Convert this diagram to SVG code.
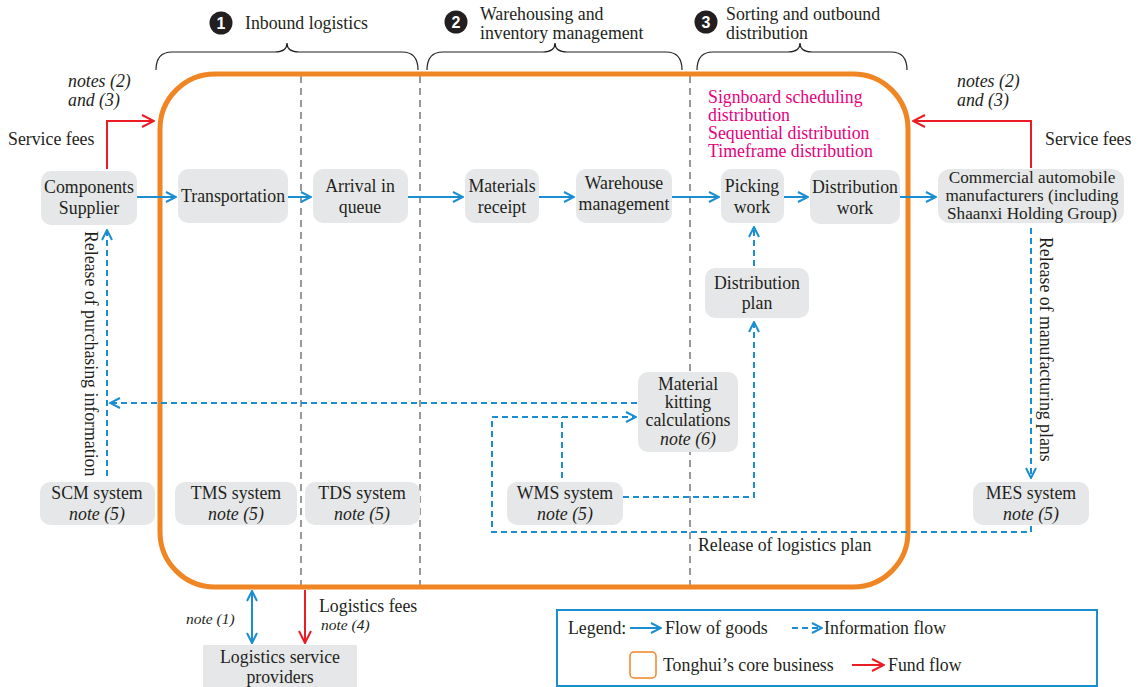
<svg xmlns="http://www.w3.org/2000/svg" width="1138" height="687" viewBox="0 0 1138 687">
<defs>
<style>
text{font-family:"Liberation Serif","Times New Roman",serif;font-size:17.8px;fill:#231f20}
.c{text-anchor:middle}
.i{font-style:italic}
.pk{fill:#e6007e}
.node{fill:#e6e7e8}
.goods{stroke:#1a8ed1;stroke-width:2;fill:none}
.info{stroke:#1a8ed1;stroke-width:2;fill:none;stroke-dasharray:6 4}
.fund{stroke:#ec1c24;stroke-width:2;fill:none}
.sep{stroke:#999;stroke-width:2;stroke-dasharray:7 5;fill:none}
.brace{stroke:#231f20;stroke-width:1.2;fill:none}
.num{fill:#fff;font-weight:bold;font-family:"Liberation Sans",Arial,sans-serif;font-size:16px}
.cm{font-size:17.2px}
</style>
<marker id="ab" viewBox="0 0 12 12" refX="11" refY="6" markerWidth="12" markerHeight="12" markerUnits="userSpaceOnUse" orient="auto-start-reverse"><path d="M1,1 L11,6 L1,11" fill="none" stroke="#1a8ed1" stroke-width="2"/></marker>
<marker id="ar" viewBox="0 0 14 14" refX="13" refY="7" markerWidth="14" markerHeight="14" markerUnits="userSpaceOnUse" orient="auto"><path d="M1,1 L13,7 L1,13" fill="none" stroke="#ec1c24" stroke-width="2"/></marker>
</defs>
<rect width="1138" height="687" fill="#fff"/>

<g id="separators">
<line class="sep" x1="301" y1="76" x2="301" y2="588"/>
<line class="sep" x1="420" y1="76" x2="420" y2="588"/>
<line class="sep" x1="690" y1="76" x2="690" y2="588"/>
</g>

<g id="core">
<rect x="160" y="74" width="748" height="513" rx="55" fill="none" stroke="#f08523" stroke-width="5"/>
</g>

<g id="headers">
<path class="brace" d="M156,70 Q156,52 172,52 L275,52 Q287,52 287,43 Q287,52 299,52 L402,52 Q418,52 418,70"/>
<path class="brace" d="M427,70 Q427,52 443,52 L543,52 Q555,52 555,43 Q555,52 567,52 L666,52 Q682,52 682,70"/>
<path class="brace" d="M697,70 Q697,52 713,52 L788,52 Q800,52 800,43 Q800,52 812,52 L891,52 Q907,52 907,70"/>
<circle cx="221" cy="23" r="11.5" fill="#231f20"/>
<text x="221" y="29" class="c num">1</text>
<text x="245" y="29">Inbound logistics</text>
<circle cx="456" cy="22" r="11.5" fill="#231f20"/>
<text x="456" y="28" class="c num">2</text>
<text x="480" y="20">Warehousing and</text>
<text x="480" y="39">inventory management</text>
<circle cx="706" cy="22" r="11.5" fill="#231f20"/>
<text x="706" y="28" class="c num">3</text>
<text x="726" y="20">Sorting and outbound</text>
<text x="726" y="39">distribution</text>
</g>

<g id="connectors">
<line class="goods" x1="137" y1="197" x2="176" y2="197" marker-end="url(#ab)"/>
<line class="goods" x1="288" y1="197" x2="311" y2="197" marker-end="url(#ab)"/>
<line class="goods" x1="408" y1="197" x2="463" y2="197" marker-end="url(#ab)"/>
<line class="goods" x1="539" y1="197" x2="574" y2="197" marker-end="url(#ab)"/>
<line class="goods" x1="672" y1="197" x2="719" y2="197" marker-end="url(#ab)"/>
<line class="goods" x1="784" y1="197" x2="808" y2="197" marker-end="url(#ab)"/>
<line class="goods" x1="900" y1="197" x2="936" y2="197" marker-end="url(#ab)"/>
<line class="goods" x1="252" y1="591" x2="252" y2="643" marker-start="url(#ab)" marker-end="url(#ab)"/>
<path class="fund" d="M107,169 L107,121 L154,121" marker-end="url(#ar)"/>
<path class="fund" d="M1031,168 L1031,121 L913,121" marker-end="url(#ar)"/>
<line class="fund" x1="305" y1="590" x2="305" y2="643" marker-end="url(#ar)"/>
<path class="info" d="M107,476 L107,230" marker-end="url(#ab)"/>
<path class="info" d="M637,403 L110,403" marker-end="url(#ab)"/>
<path class="info" d="M1031,526 L1031,532 L492,532 L492,417 L636,417" marker-end="url(#ab)"/>
<path class="info" d="M562,478 L562,417"/>
<path class="info" d="M623,497 L754,497 L754,322" marker-end="url(#ab)"/>
<path class="info" d="M754,266 L754,227" marker-end="url(#ab)"/>
<path class="info" d="M1031,228 L1031,478" marker-end="url(#ab)"/>
</g>

<g id="labels">
<text x="68" y="87" class="i">notes (2)</text>
<text x="68" y="106" class="i">and (3)</text>
<text x="8" y="145">Service fees</text>
<text x="957" y="87" class="i">notes (2)</text>
<text x="957" y="106" class="i">and (3)</text>
<text x="1045" y="145">Service fees</text>
<text x="708" y="103" class="pk">Signboard scheduling</text>
<text x="708" y="121" class="pk">distribution</text>
<text x="708" y="139" class="pk">Sequential distribution</text>
<text x="708" y="157" class="pk">Timeframe distribution</text>
<text transform="translate(85,231) rotate(90)">Release of purchasing information</text>
<text transform="translate(1040,237) rotate(90)">Release of manufacturing plans</text>
<text x="698" y="551">Release of logistics plan</text>
<text x="186" y="624" class="i" style="font-size:15.5px">note (1)</text>
<text x="319" y="612">Logistics fees</text>
<text x="321" y="630" class="i" style="font-size:15.5px">note (4)</text>
</g>

<g id="n-supplier"><rect class="node" x="41" y="171" width="96" height="54" rx="10"/><text x="89" y="193" class="c">Components</text><text x="89" y="214" class="c">Supplier</text></g>
<g id="n-transport"><rect class="node" x="178" y="169" width="110" height="54" rx="10"/><text x="233" y="202" class="c">Transportation</text></g>
<g id="n-arrival"><rect class="node" x="313" y="169" width="95" height="54" rx="10"/><text x="360" y="192" class="c">Arrival in</text><text x="360" y="213" class="c">queue</text></g>
<g id="n-receipt"><rect class="node" x="465" y="169" width="74" height="54" rx="10"/><text x="502" y="192" class="c">Materials</text><text x="502" y="213" class="c">receipt</text></g>
<g id="n-warehouse"><rect class="node" x="576" y="169" width="96" height="54" rx="10"/><text x="624" y="189" class="c">Warehouse</text><text x="624" y="210" class="c">management</text></g>
<g id="n-picking"><rect class="node" x="721" y="169" width="63" height="54" rx="10"/><text x="752" y="192" class="c">Picking</text><text x="752" y="213" class="c">work</text></g>
<g id="n-distwork"><rect class="node" x="810" y="170" width="90" height="54" rx="10"/><text x="855" y="193" class="c">Distribution</text><text x="855" y="214" class="c">work</text></g>
<g id="n-commercial"><rect class="node" x="938" y="169" width="186" height="54" rx="12"/><text x="1032" y="183" class="c cm">Commercial automobile</text><text x="1032" y="201" class="c cm">manufacturers (including</text><text x="1032" y="219" class="c cm">Shaanxi Holding Group)</text></g>
<g id="n-distplan"><rect class="node" x="705" y="268" width="104" height="50" rx="10"/><text x="757" y="289" class="c">Distribution</text><text x="757" y="309" class="c">plan</text></g>
<g id="n-kitting"><rect class="node" x="638" y="372" width="100" height="80" rx="10"/><text x="688" y="390" class="c">Material</text><text x="688" y="408" class="c">kitting</text><text x="688" y="426" class="c">calculations</text><text x="688" y="445" class="c i">note (6)</text></g>
<g id="n-scm"><rect class="node" x="40" y="482" width="115" height="43" rx="10"/><text x="97" y="499" class="c">SCM system</text><text x="97" y="520" class="c i">note (5)</text></g>
<g id="n-tms"><rect class="node" x="175" y="482" width="122" height="43" rx="10"/><text x="236" y="499" class="c">TMS system</text><text x="236" y="520" class="c i">note (5)</text></g>
<g id="n-tds"><rect class="node" x="305" y="482" width="115" height="43" rx="10"/><text x="362" y="499" class="c">TDS system</text><text x="362" y="520" class="c i">note (5)</text></g>
<g id="n-wms"><rect class="node" x="507" y="482" width="116" height="43" rx="10"/><text x="565" y="499" class="c">WMS system</text><text x="565" y="520" class="c i">note (5)</text></g>
<g id="n-mes"><rect class="node" x="973" y="482" width="116" height="43" rx="10"/><text x="1031" y="499" class="c">MES system</text><text x="1031" y="520" class="c i">note (5)</text></g>
<g id="n-lsp"><rect class="node" x="203" y="645" width="154" height="42"/><text x="280" y="663" class="c">Logistics service</text><text x="280" y="683" class="c">providers</text></g>

<g id="legend">
<rect x="557" y="610" width="540" height="76" fill="none" stroke="#1a8ed1" stroke-width="2"/>
<text x="568" y="634">Legend:</text>
<line class="goods" x1="630" y1="628" x2="661" y2="628" marker-end="url(#ab)"/>
<text x="665" y="634">Flow of goods</text>
<line class="info" x1="792" y1="628" x2="822" y2="628" marker-end="url(#ab)"/>
<text x="824" y="634">Information flow</text>
<rect x="630" y="652" width="26" height="26" rx="4" fill="none" stroke="#f08523" stroke-width="1.5"/>
<text x="663" y="671">Tonghui’s core business</text>
<line class="fund" x1="852" y1="665" x2="884" y2="665" marker-end="url(#ar)"/>
<text x="888" y="671">Fund flow</text>
</g>
</svg>
